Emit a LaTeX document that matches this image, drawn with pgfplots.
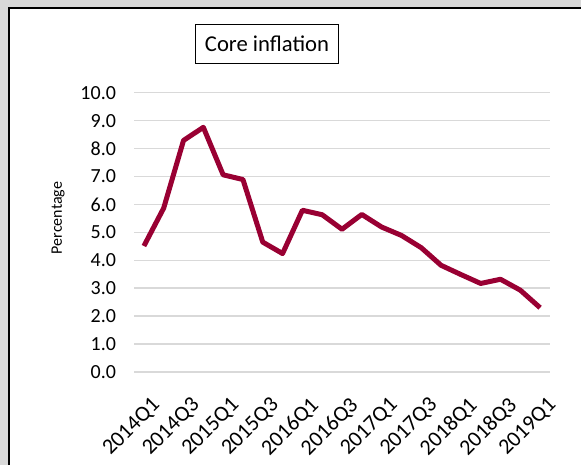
\documentclass[border=0pt]{standalone}
\usepackage{fontspec}
\setmainfont{Carlito}
\usepackage{pgfplots}
\pgfplotsset{compat=1.18}
\definecolor{serie}{HTML}{990033}
\definecolor{gridc}{HTML}{D9D9D9}
\definecolor{bg}{HTML}{D9D9D9}
\begin{document}
\begin{tikzpicture}[x=0.75pt,y=0.75pt]
\useasboundingbox (0,0) rectangle (581,465);
\fill[bg] (0,0) rectangle (581,465);
\fill[white] (8,0) rectangle (581,457);
\draw[black, line width=1.5pt] (8.75,0) -- (8.75,457.25) -- (581,457.25);
\begin{axis}[
  at={(100.5pt,69.75pt)}, anchor=south west,
  scale only axis, width=312pt, height=209.5pt,
  xmin=-0.5, xmax=20.5, ymin=0, ymax=10,
  axis line style={draw=none},
  major tick length=0pt,
  ymajorgrids, grid style={gridc, line width=1.1pt},
  ytick={0,1,...,10},
  xtick={0,2,...,20},
  xticklabels={2014Q1,2014Q3,2015Q1,2015Q3,2016Q1,2016Q3,2017Q1,2017Q3,2018Q1,2018Q3,2019Q1},
  x tick label style={rotate=45, anchor=north east, font=\fontsize{16.5}{16.5}\selectfont, inner sep=1pt, yshift=-15pt, xshift=-8pt},
  y tick label style={font=\fontsize{15}{15}\selectfont, xshift=-10pt, /pgf/number format/.cd, fixed, fixed zerofill, precision=1},
  /pgf/number format/assume math mode=true,
  clip=false,
]
\addplot[serie, line width=3.75pt, line join=round] coordinates {
(0,4.51) (1,5.87) (2,8.29) (3,8.76) (4,7.06) (5,6.89) (6,4.65) (7,4.24)
(8,5.79) (9,5.63) (10,5.11) (11,5.64) (12,5.19) (13,4.89) (14,4.45)
(15,3.82) (16,3.49) (17,3.17) (18,3.32) (19,2.93) (20,2.30)
};
\end{axis}
\node[rotate=90, font=\fontsize{12}{12}\selectfont] at (58,247) {Percentage};
\node[draw, line width=0.75pt, minimum width=107pt, minimum height=29pt, inner sep=0pt, font=\fontsize{17}{17}\selectfont] at (267,421.2) {Core inflation};
\end{tikzpicture}
\end{document}
